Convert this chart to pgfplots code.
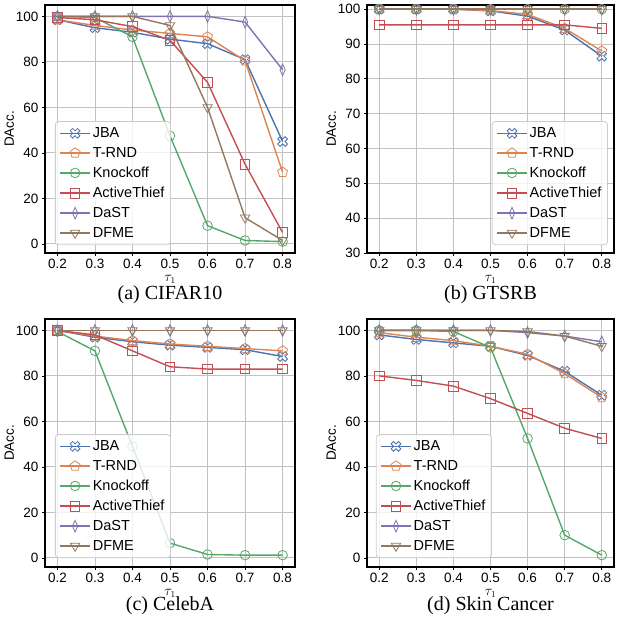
\documentclass[border=0pt]{standalone}
\usepackage{fontspec}
\setmainfont{Liberation Sans}
\newfontfamily\capfont{Liberation Serif}
\usepackage{pgfplots}
\pgfplotsset{compat=1.18}
\usetikzlibrary{plotmarks}

% seaborn "deep" colours
\definecolor{cJBA}{HTML}{4C72B0}
\definecolor{cTRND}{HTML}{DD8452}
\definecolor{cKO}{HTML}{55A868}
\definecolor{cAT}{HTML}{C44E52}
\definecolor{cDaST}{HTML}{8172B3}
\definecolor{cDFME}{HTML}{937860}

% hollow fat cross (matplotlib 'X')
\pgfdeclareplotmark{fatx}{%
  \pgfpathmoveto{\pgfpoint{0.32\pgfplotmarksize}{\pgfplotmarksize}}%
  \pgfpathlineto{\pgfpoint{0.32\pgfplotmarksize}{0.32\pgfplotmarksize}}%
  \pgfpathlineto{\pgfpoint{\pgfplotmarksize}{0.32\pgfplotmarksize}}%
  \pgfpathlineto{\pgfpoint{\pgfplotmarksize}{-0.32\pgfplotmarksize}}%
  \pgfpathlineto{\pgfpoint{0.32\pgfplotmarksize}{-0.32\pgfplotmarksize}}%
  \pgfpathlineto{\pgfpoint{0.32\pgfplotmarksize}{-\pgfplotmarksize}}%
  \pgfpathlineto{\pgfpoint{-0.32\pgfplotmarksize}{-\pgfplotmarksize}}%
  \pgfpathlineto{\pgfpoint{-0.32\pgfplotmarksize}{-0.32\pgfplotmarksize}}%
  \pgfpathlineto{\pgfpoint{-\pgfplotmarksize}{-0.32\pgfplotmarksize}}%
  \pgfpathlineto{\pgfpoint{-\pgfplotmarksize}{0.32\pgfplotmarksize}}%
  \pgfpathlineto{\pgfpoint{-0.32\pgfplotmarksize}{0.32\pgfplotmarksize}}%
  \pgfpathlineto{\pgfpoint{-0.32\pgfplotmarksize}{\pgfplotmarksize}}%
  \pgfpathclose
  \pgfusepathqstroke
}

\pgfplotsset{
  panel/.style={
    scale only axis, width=250pt, height=248pt,
    anchor=south west,
    xmin=0.167, xmax=0.833,
    xtick={0.2,0.3,0.4,0.5,0.6,0.7,0.8},
    xticklabels={0.2,0.3,0.4,0.5,0.6,0.7,0.8},
    /pgf/number format/assume math mode=true,
    ticklabel style={font=\fontsize{13.5}{14}\selectfont, black},
    label style={font=\fontsize{13.5}{14}\selectfont, black},
    xlabel={$\tau_1$},
    ylabel={DAcc.},
    xlabel style={inner sep=0.5pt, yshift=-2pt},
    ylabel style={yshift=-5pt},
    grid=major,
    major grid style={color=black!24, line width=0.8pt},
    axis line style={line width=1.6pt, black},
    tick style={black, line width=0.7pt},
    tick align=outside, major tick length=3pt,
    xtick pos=bottom, ytick pos=left,
    clip marker paths=true,
    legend cell align=left,
    legend image code/.code={%
      \draw[sharp corners, fill=none, mark repeat=2, mark phase=2, #1]
        plot coordinates {(0pt,0pt) (15pt,0pt) (30pt,0pt)};},
    legend style={font=\fontsize{14.5}{16}\selectfont, draw=black!20,
      line width=0.8pt, rounded corners=3pt, fill=white, fill opacity=0.8,
      text opacity=1, draw opacity=1, row sep=4.2pt,
      inner xsep=4pt, inner ysep=4pt},
  },
  ln/.style={line width=1.4pt},
  sJBA/.style={ln, color=cJBA, mark=fatx, mark size=5.2pt,
    mark options={solid, fill=none, line width=0.8pt, rotate=45}},
  sTRND/.style={ln, color=cTRND, mark=pentagon, mark size=5.2pt,
    mark options={solid, fill=none, line width=0.8pt}},
  sKO/.style={ln, color=cKO, mark=o, mark size=4.8pt,
    mark options={solid, fill=none, line width=0.8pt}},
  sAT/.style={ln, color=cAT, mark=square, mark size=4.8pt,
    mark options={solid, fill=none, line width=0.8pt}},
  sDaST/.style={ln, color=cDaST, mark=diamond, mark size=5.8pt,
    mark options={solid, fill=none, line width=0.8pt, xscale=0.6}},
  sDFME/.style={ln, color=cDFME, mark=triangle, mark size=5.4pt,
    mark options={solid, fill=none, line width=0.8pt, rotate=180}},
}

\begin{document}
\begin{tikzpicture}
\useasboundingbox (0,0) rectangle (616pt,623pt);
\clip (0,0) rectangle (616pt,623pt);

% (a) CIFAR10
\begin{axis}[panel, at={(45pt,370pt)}, ymin=-4, ymax=105, ytick={0,20,40,60,80,100},
  legend style={at={(0.04,0.032)}, anchor=south west}]
\addplot[sJBA] coordinates {(0.2,98.5) (0.3,95) (0.4,93) (0.5,90) (0.6,88) (0.7,81) (0.8,45)};
\addplot[sTRND] coordinates {(0.2,98.5) (0.3,96) (0.4,94) (0.5,92.5) (0.6,91) (0.7,80.5) (0.8,31.5)};
\addplot[sKO] coordinates {(0.2,100) (0.3,99.5) (0.4,91) (0.5,47.5) (0.6,8) (0.7,1.5) (0.8,1)};
\addplot[sAT] coordinates {(0.2,99.5) (0.3,98.5) (0.4,95.5) (0.5,89.5) (0.6,71) (0.7,35) (0.8,5)};
\addplot[sDaST] coordinates {(0.2,100) (0.3,100) (0.4,100) (0.5,100) (0.6,100) (0.7,97.5) (0.8,76.5)};
\addplot[sDFME] coordinates {(0.2,100) (0.3,100) (0.4,100) (0.5,96) (0.6,60) (0.7,11.5) (0.8,1.5)};
\legend{JBA,T-RND,Knockoff,ActiveThief,DaST,DFME}
\end{axis}

% (b) GTSRB
\begin{axis}[panel, at={(367pt,370pt)}, width=247pt, ymin=30, ymax=101.2,
  ytick={30,40,50,60,70,80,90,100},
  legend style={at={(0.975,0.032)}, anchor=south east}]
\addplot[sJBA] coordinates {(0.2,100) (0.3,100) (0.4,100) (0.5,99.5) (0.6,98) (0.7,94) (0.8,86.5)};
\addplot[sTRND] coordinates {(0.2,100) (0.3,100) (0.4,100) (0.5,99.6) (0.6,98.5) (0.7,94.5) (0.8,88)};
\addplot[sKO] coordinates {(0.2,100) (0.3,100) (0.4,100) (0.5,100) (0.6,100) (0.7,100) (0.8,100)};
\addplot[sAT] coordinates {(0.2,95.5) (0.3,95.5) (0.4,95.5) (0.5,95.5) (0.6,95.5) (0.7,95.5) (0.8,94.5)};
\addplot[sDaST] coordinates {(0.2,100) (0.3,100) (0.4,100) (0.5,100) (0.6,100) (0.7,100) (0.8,100)};
\addplot[sDFME] coordinates {(0.2,100) (0.3,100) (0.4,100) (0.5,100) (0.6,100) (0.7,100) (0.8,100)};
\legend{JBA,T-RND,Knockoff,ActiveThief,DaST,DFME}
\end{axis}

% (c) CelebA
\begin{axis}[panel, at={(45pt,56pt)}, ymin=-4, ymax=105, ytick={0,20,40,60,80,100},
  legend style={at={(0.04,0.036)}, anchor=south west}]
\addplot[sJBA] coordinates {(0.2,100) (0.3,97) (0.4,95) (0.5,93.5) (0.6,92.5) (0.7,91.5) (0.8,88.5)};
\addplot[sTRND] coordinates {(0.2,100) (0.3,97.5) (0.4,95.5) (0.5,94) (0.6,93) (0.7,92) (0.8,91)};
\addplot[sKO] coordinates {(0.2,99.5) (0.3,91) (0.4,49) (0.5,6.5) (0.6,1.5) (0.7,1.2) (0.8,1.2)};
\addplot[sAT] coordinates {(0.2,100) (0.3,98) (0.4,91) (0.5,84) (0.6,83) (0.7,83) (0.8,83)};
\addplot[sDaST] coordinates {(0.2,100) (0.3,100) (0.4,100) (0.5,100) (0.6,100) (0.7,100) (0.8,100)};
\addplot[sDFME] coordinates {(0.2,100) (0.3,100) (0.4,100) (0.5,100) (0.6,100) (0.7,100) (0.8,100)};
\legend{JBA,T-RND,Knockoff,ActiveThief,DaST,DFME}
\end{axis}

% (d) Skin Cancer
\begin{axis}[panel, at={(367pt,56pt)}, width=247pt, ymin=-4, ymax=105, ytick={0,20,40,60,80,100},
  legend style={at={(0.036,0.036)}, anchor=south west}]
\addplot[sJBA] coordinates {(0.2,98) (0.3,96) (0.4,94.5) (0.5,93) (0.6,89) (0.7,82) (0.8,71.5)};
\addplot[sTRND] coordinates {(0.2,99) (0.3,97) (0.4,95.5) (0.5,93) (0.6,89.5) (0.7,81) (0.8,70.5)};
\addplot[sKO] coordinates {(0.2,100) (0.3,100) (0.4,99.5) (0.5,92.5) (0.6,52.5) (0.7,10) (0.8,1.2)};
\addplot[sAT] coordinates {(0.2,80) (0.3,78) (0.4,75.5) (0.5,70) (0.6,63.5) (0.7,57) (0.8,52.5)};
\addplot[sDaST] coordinates {(0.2,100) (0.3,100) (0.4,100) (0.5,100) (0.6,99) (0.7,97.5) (0.8,95)};
\addplot[sDFME] coordinates {(0.2,100) (0.3,100) (0.4,100) (0.5,100) (0.6,99.5) (0.7,97.5) (0.8,93)};
\legend{JBA,T-RND,Knockoff,ActiveThief,DaST,DFME}
\end{axis}

\tikzset{capnode/.style={font=\capfont\fontsize{20}{22}\selectfont, inner sep=0pt}}
\node[capnode] at (170pt,328pt) {(a) CIFAR10};
\node[capnode] at (490.5pt,328pt) {(b) GTSRB};
\node[capnode] at (170pt,17pt) {(c) CelebA};
\node[capnode] at (490.5pt,17pt) {(d) Skin Cancer};
\end{tikzpicture}
\end{document}
